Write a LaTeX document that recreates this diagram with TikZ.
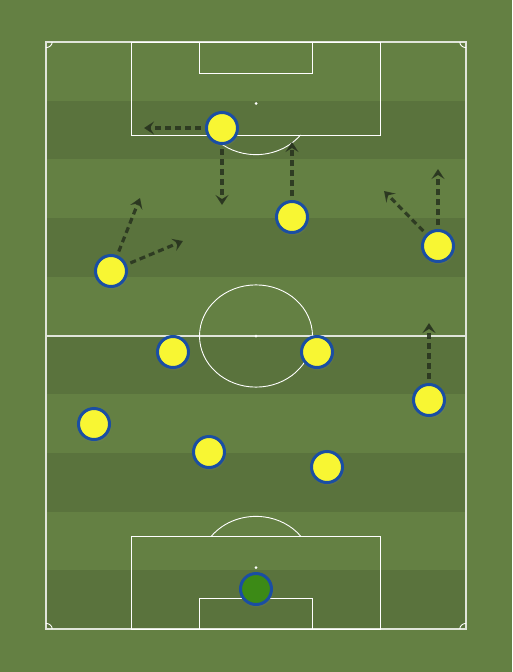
\documentclass[tikz,border=0pt]{standalone}
\usepackage{xcolor}
\usetikzlibrary{arrows.meta,shadows}

\definecolor{grass}{HTML}{648043}
\definecolor{grassdark}{HTML}{5A733D}
\definecolor{kityellow}{HTML}{F8F633}
\definecolor{kitblue}{HTML}{1A4EA3}
\definecolor{keeper}{HTML}{3C8A16}
\definecolor{runline}{HTML}{2A3620}

\begin{document}
\begin{tikzpicture}[x=1pt,y=-1pt,
    line/.style={white,line width=0.9pt},
    player/.style={circle,draw=kitblue,line width=3pt,fill=kityellow,
        minimum size=31pt,inner sep=0pt,
        circular drop shadow={shadow xshift=0.5pt,shadow yshift=-1.5pt,
            shadow scale=1.1,opacity=.25}},
    run/.style={runline,opacity=.9,line width=3.2pt,
        dash pattern=on 6pt off 4pt,shorten <=4pt,
        -{Stealth[length=10pt,width=13pt,inset=4pt]}}]
  % ------- parameters -------
  \def\L{46}      % left touchline
  \def\R{466}     % right touchline
  \def\T{42}      % top goal line
  \def\B{629}     % bottom goal line
  \def\S{58.7}    % stripe height
  \def\RX{56.5}   % circle radius, across
  \def\RY{51.1}   % circle radius, along

  % ------- grass -------
  \useasboundingbox[fill=grass] (0,0) rectangle (512,672);
  \foreach \i in {1,3,...,9}
    \fill[grassdark] (\L,\T+\i*\S) rectangle (\R,\T+\i*\S+\S);

  % ------- outlines -------
  \draw[line,white!80!grass,line width=1.2pt] (\L,\T) rectangle (\R,\B);
  \draw[line,white!80!grass,line width=1.2pt] (\L,336) -- (\R,336);      % halfway line
  \draw[line] (256,336) ellipse[x radius=\RX,y radius=\RY];                % centre circle
  \fill[white] (256,336) circle (1.5);

  % top end
  \draw[line] (131,\T) rectangle (380,135);                                % penalty area
  \draw[line] (199,\T) rectangle (312,73);                                 % goal area
  \fill[white] (256,103.5) circle (1.5);
  \draw[line] (300.5,135)
        arc[start angle=38,end angle=142,x radius=\RX,y radius=\RY];      % penalty arc

  % bottom end
  \draw[line] (131,536) rectangle (380,\B);
  \draw[line] (199,598) rectangle (312,\B);
  \fill[white] (256,567.5) circle (1.5);
  \draw[line] (211.5,536)
        arc[start angle=218,end angle=322,x radius=\RX,y radius=\RY];

  % corners
  \draw[line] (\L+6.2,\T) arc[start angle=0,end angle=90,x radius=6.2,y radius=5.6];
  \draw[line] (\R-6.2,\T) arc[start angle=180,end angle=90,x radius=6.2,y radius=5.6];
  \draw[line] (\L+6.2,\B) arc[start angle=0,end angle=-90,x radius=6.2,y radius=5.6];
  \draw[line] (\R-6.2,\B) arc[start angle=180,end angle=270,x radius=6.2,y radius=5.6];

  % ------- players -------
  \node[player,fill=keeper] (gk) at (256,589) {};
  \node[player] (lcb) at (209,452) {};
  \node[player] (rcb) at (327,467) {};
  \node[player] (lb)  at (94,424)  {};
  \node[player] (rb)  at (429,400) {};
  \node[player] (lcm) at (173,352) {};
  \node[player] (rcm) at (317,352) {};
  \node[player] (lw)  at (111,271) {};
  \node[player] (am)  at (292,217) {};
  \node[player] (rw)  at (438,246) {};
  \node[player] (st)  at (222,128) {};

  % ------- runs -------
  \coordinate (stA) at (144,128);
  \coordinate (stB) at (222,205);
  \coordinate (amA) at (292,142);
  \coordinate (lwA) at (140,198);
  \coordinate (lwB) at (183,241);
  \coordinate (rwA) at (438,169);
  \coordinate (rwB) at (384,191);
  \coordinate (rbA) at (429,323);

  \draw[run] (st) -- (stA);
  \draw[run] (st) -- (stB);
  \draw[run] (am) -- (amA);
  \draw[run] (lw) -- (lwA);
  \draw[run] (lw) -- (lwB);
  \draw[run] (rw) -- (rwA);
  \draw[run] (rw) -- (rwB);
  \draw[run] (rb) -- (rbA);
\end{tikzpicture}
\end{document}
